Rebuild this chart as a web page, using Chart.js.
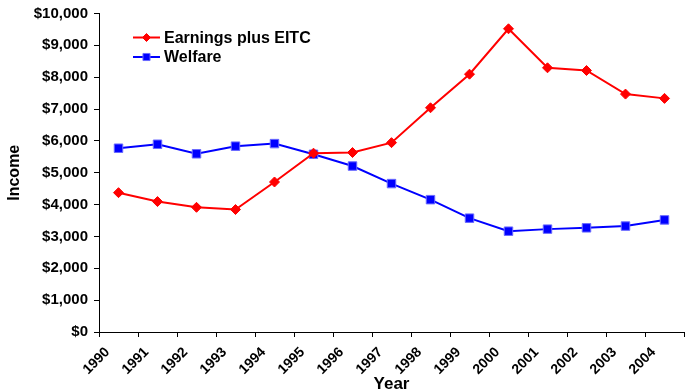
<!DOCTYPE html>
<html>
<head>
<meta charset="utf-8">
<script src="https://cdn.jsdelivr.net/npm/chart.js@4/dist/chart.umd.min.js"></script>
<style>
  html, body { margin: 0; padding: 0; background: #fff; overflow: hidden; }
  #wrap { width: 691px; height: 392px; }
</style>
</head>
<body>
<div id="wrap"><canvas id="incomeChart"></canvas></div>
<script>
const years = ['1990', '1991', '1992', '1993', '1994', '1995', '1996', '1997',
               '1998', '1999', '2000', '2001', '2002', '2003', '2004'];
const earningsEitc = [4375, 4095, 3915, 3845, 4710, 5615, 5635, 5945,
                      7040, 8095, 9520, 8295, 8210, 7470, 7335];
const welfare = [5770, 5895, 5595, 5835, 5915, 5580, 5210, 4660,
                 4155, 3575, 3165, 3230, 3270, 3325, 3520];
const yTicks = [0, 1000, 2000, 3000, 4000, 5000, 6000, 7000, 8000, 9000, 10000];

const FONT = 'Liberation Sans, Arial, sans-serif';

// legend drawn inside the plot area, top left
const insideLegend = {
    id: 'insideLegend',
    afterDraw(chart) {
        const ctx = chart.ctx;
        const left = chart.chartArea.left + 34;
        let y = chart.chartArea.top + 24;
        ctx.save();
        chart.data.datasets.forEach(ds => {
            ctx.strokeStyle = ds.borderColor;
            ctx.lineWidth = 2;
            ctx.beginPath();
            ctx.moveTo(left, y);
            ctx.lineTo(left + 27, y);
            ctx.stroke();
            ctx.fillStyle = ds.backgroundColor;
            ctx.strokeStyle = ds.pointBorderColor || ds.borderColor;
            ctx.lineWidth = 1;
            Chart.helpers.drawPoint(ctx, {
                pointStyle: ds.pointStyle,
                radius: ds.pointRadius - 1,
                borderWidth: 1
            }, left + 13.5, y);
            ctx.fillStyle = '#000';
            ctx.font = 'bold 16px ' + FONT;
            ctx.textBaseline = 'middle';
            ctx.textAlign = 'left';
            ctx.fillText(ds.label, left + 31, y + 1);
            y += 19.5;
        });
        ctx.restore();
    }
};

const ctx = document.getElementById('incomeChart').getContext('2d');
const chart = new Chart(ctx, {
    type: 'line',
    data: {
        labels: years,
        datasets: [
            {
                label: 'Earnings plus EITC',
                data: earningsEitc,
                borderColor: '#ff0000',
                backgroundColor: '#ff0000',
                borderWidth: 2,
                pointStyle: 'rectRot',
                pointRadius: 5,
                pointBorderWidth: 1,
                tension: 0
            },
            {
                label: 'Welfare',
                data: welfare,
                borderColor: '#0000ff',
                backgroundColor: '#0000ff',
                borderWidth: 2,
                pointStyle: 'rect',
                pointRadius: 6,
                pointBorderColor: '#6a6aff',
                pointBorderWidth: 1,
                tension: 0
            }
        ]
    },
    options: {
        responsive: true,
        maintainAspectRatio: false,
        animation: false,
        layout: { padding: { top: 12, right: 0, left: 0, bottom: 0 } },
        plugins: {
            legend: { display: false },
            tooltip: { enabled: false }
        },
        scales: {
            x: {
                offset: true,
                grid: {
                    offset: true,
                    drawOnChartArea: false,
                    drawTicks: true,
                    tickLength: 5,
                    color: '#000'
                },
                border: { color: '#000', width: 1 },
                ticks: {
                    color: '#000',
                    font: { family: FONT, size: 14, weight: 'bold' },
                    minRotation: 45,
                    maxRotation: 45,
                    autoSkip: false,
                    labelOffset: -11,
                    padding: 7
                },
                title: {
                    display: true,
                    text: 'Year',
                    color: '#000',
                    font: { family: FONT, size: 17, weight: 'bold' },
                    padding: { top: 0, bottom: -3 }
                },
                afterFit(scale) { scale.height = 60; }
            },
            y: {
                min: 0,
                max: 10000,
                afterBuildTicks(scale) { scale.ticks = yTicks.map(v => ({ value: v })); },
                grid: {
                    drawOnChartArea: false,
                    drawTicks: true,
                    tickLength: 5,
                    color: '#000'
                },
                border: { color: '#000', width: 1 },
                ticks: {
                    color: '#000',
                    font: { family: FONT, size: 15, weight: 'bold', lineHeight: 1 },
                    padding: 6,
                    callback: v => '$' + v.toLocaleString('en-US')
                },
                title: {
                    display: true,
                    text: 'Income',
                    color: '#000',
                    font: { family: FONT, size: 16, weight: 'bold' },
                    padding: { top: 5, bottom: 0 }
                },
                afterFit(scale) { scale.width = 99; }
            }
        }
    },
    plugins: [insideLegend]
});
</script>
</body>
</html>
